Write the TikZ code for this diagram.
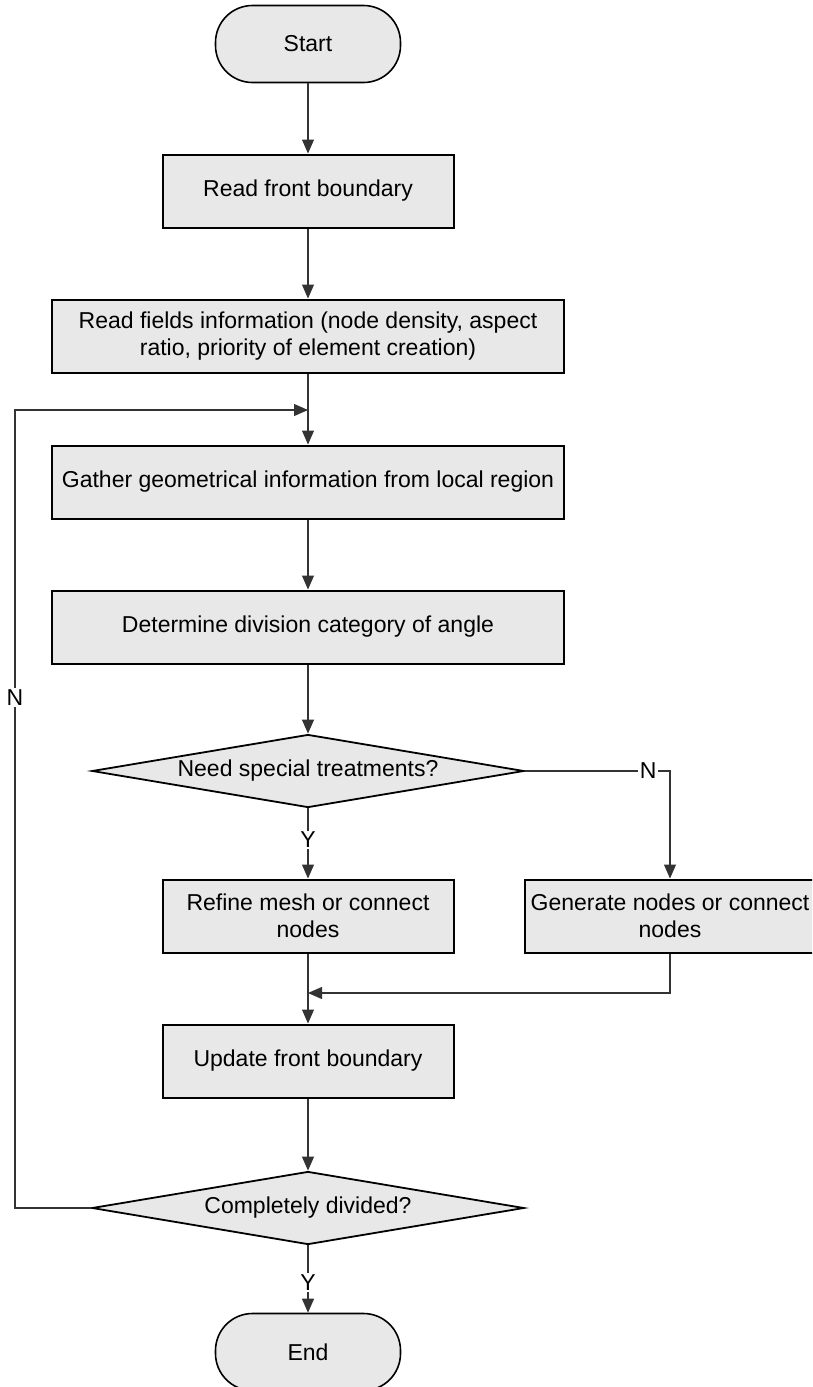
\documentclass[tikz,border=0pt]{standalone}
\usepackage{fontspec}
\setmainfont{Liberation Sans}
\usetikzlibrary{shapes.geometric,arrows.meta}

\begin{document}
\begin{tikzpicture}[x=1pt,y=-1pt,
  every node/.style={font=\fontsize{23}{27}\selectfont, inner sep=0pt, align=center},
  terminal/.style={draw, line width=1.6pt, fill=black!9, rounded corners=37pt,
                   minimum width=185pt, minimum height=77pt},
  procbox/.style={draw, line width=2pt, fill=black!9, minimum height=73pt},
  narrowbox/.style={procbox, minimum width=291pt},
  widebox/.style={procbox, minimum width=512pt},
  decision/.style={draw, line width=1.8pt, fill=black!9, diamond, aspect=5.9,
                   minimum width=432pt, minimum height=73pt},
  flow/.style={draw=black!80, line width=1.1pt, -{Triangle[length=14pt,width=12pt]}},
  branch/.style={fill=white, inner sep=1.5pt, font=\fontsize{23}{23}\selectfont}
]
\useasboundingbox (0,0) rectangle (812,1387);
\clip (0,0) rectangle (812,1387);

% main column
\node[terminal]   (start)      at (308,44)   {Start};
\node[narrowbox]  (readfront)  at (308,191)  {Read front boundary};
\node[widebox]    (readfields) at (308,336)  {Read fields information (node density, aspect\\ratio, priority of element creation)};
\node[widebox]    (gather)     at (308,482)  {Gather geometrical information from local region};
\node[widebox]    (determine)  at (308,627)  {Determine division category of angle};
\node[decision]   (need)       at (308,771)  {Need special treatments?};
\node[narrowbox]  (refine)     at (308,916)  {Refine mesh or connect\\nodes};
\node[narrowbox]  (generate)   at (670,916)  {Generate nodes or connect\\nodes};
\node[narrowbox]  (update)     at (308,1061) {Update front boundary};
\node[decision]   (done)       at (308,1208) {Completely divided?};
\node[terminal]   (end)        at (308,1352) {End};

% helper points for the bent connectors
\coordinate (ncorner) at (670,771);
\coordinate (merge)   at (308,993);
\coordinate (loopA)   at (15,1208);
\coordinate (loopB)   at (15,410);
\coordinate (loopC)   at (308,410);

% straight flow
\draw[flow] (start) -- (readfront);
\draw[flow] (readfront) -- (readfields);
\draw[flow] (readfields) -- (gather);
\draw[flow] (gather) -- (determine);
\draw[flow] (determine) -- (need);
\draw[flow] (need) -- node[branch, pos=0.45] {Y} (refine);
\draw[flow] (refine) -- (update);
\draw[flow] (update) -- (done);
\draw[flow] (done) -- node[branch, pos=0.55] {Y} (end);

% "no special treatment" branch and its return
\draw[flow] (need.east) -- node[branch, pos=0.85] {N} (ncorner) -- (generate.north);
\draw[flow] (generate.south) |- (merge);

% loop back while not completely divided
\draw[flow] (done.west) -- (loopA) -- node[branch, pos=0.64] {N} (loopB) -- (loopC);
\end{tikzpicture}
\end{document}
